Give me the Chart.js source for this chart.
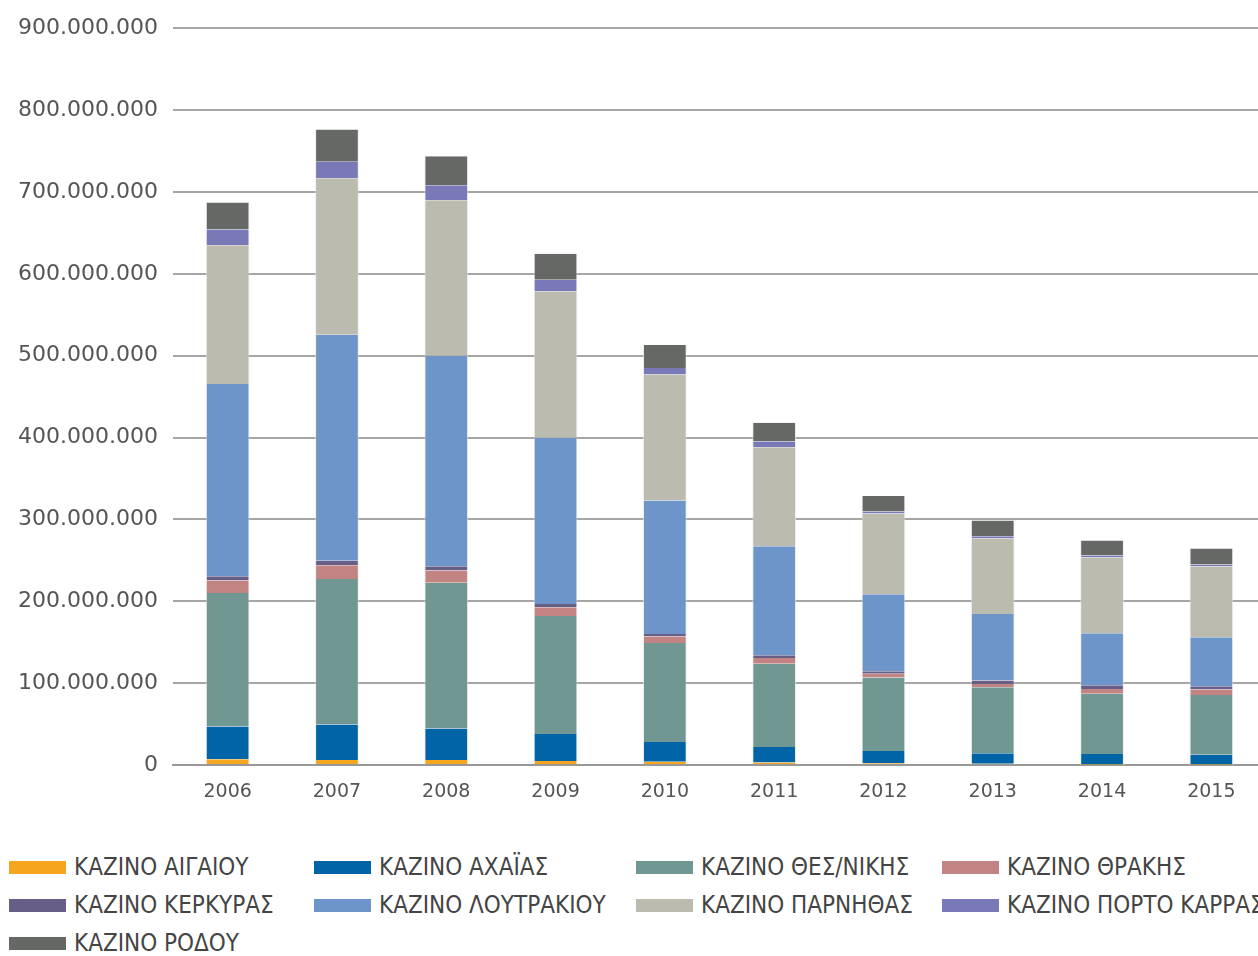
<html>
<head>
    <title>Καζίνο</title>
    <style>
        html, body { overflow: hidden; }
        body { margin: 0; background: #fff; font-family: "DejaVu Sans", sans-serif; }
        #wrap { position: relative; width: 1266px; height: 810px; }
        #leyenda { display: grid; grid-template-columns: 305px 322px 306px auto; row-gap: 12px; padding-left: 9px; margin-top: 44px; width: 1249px; }
        .item { display: flex; align-items: center; height: 26px; white-space: nowrap; }
        .sw { width: 57px; height: 13px; margin-right: 8px; flex: none; }
        .txt { font-family: "Liberation Sans Narrow", "DejaVu Sans Condensed", sans-serif; font-size: 24px; color: #444; }
    </style>
</head>
<body>
    <div id="wrap"><canvas id="grafico"></canvas></div>
    <div id="leyenda"></div>

    <script src="https://cdn.jsdelivr.net/npm/chart.js"></script>
    <script>
        const anios = ['2006', '2007', '2008', '2009', '2010', '2011', '2012', '2013', '2014', '2015'];

        // valores en millones de euros
        const aigaiou   = [7, 6, 6, 5, 4, 3, 2, 1.5, 0.4, 0.3];
        const achaias   = [40, 43.6, 38.7, 33, 24, 19, 15, 13, 13, 12.3];
        const thesniki  = [163, 177.6, 178, 144, 121, 101.6, 90, 80.5, 73.5, 73];
        const thrakis   = [15.5, 16.7, 15, 10.7, 8, 7, 4.4, 4, 6, 6.6];
        const kerkyras  = [5, 5.7, 5.2, 4, 3, 3.5, 3.2, 4.3, 4.5, 4];
        const loutrakiou = [235, 276, 257, 203, 163, 133, 94, 81, 63.4, 59.8];
        const parnithas = [169.5, 191, 190, 179, 154, 121, 98.5, 92.5, 92.7, 86.6];
        const portokarras = [19, 20.3, 18.3, 14, 8, 7, 2.5, 2.5, 2.4, 2.4];
        const rodou     = [33, 39.4, 35.4, 31.7, 28, 23, 19, 19.5, 18.4, 19.6];

        const ticksY = [0, 100, 200, 300, 400, 500, 600, 700, 800, 900];

        const series = [
            { label: 'ΚΑΖΙΝΟ ΑΙΓΑΙΟΥ', data: aigaiou, color: '#F6A61E' },
            { label: 'ΚΑΖΙΝΟ ΑΧΑΪΑΣ', data: achaias, color: '#0064A7' },
            { label: 'ΚΑΖΙΝΟ ΘΕΣ/ΝΙΚΗΣ', data: thesniki, color: '#719793' },
            { label: 'ΚΑΖΙΝΟ ΘΡΑΚΗΣ', data: thrakis, color: '#C18482' },
            { label: 'ΚΑΖΙΝΟ ΚΕΡΚΥΡΑΣ', data: kerkyras, color: '#665E87' },
            { label: 'ΚΑΖΙΝΟ ΛΟΥΤΡΑΚΙΟΥ', data: loutrakiou, color: '#6D95C9' },
            { label: 'ΚΑΖΙΝΟ ΠΑΡΝΗΘΑΣ', data: parnithas, color: '#BBBBAF' },
            { label: 'ΚΑΖΙΝΟ ΠΟΡΤΟ ΚΑΡΡΑΣ', data: portokarras, color: '#7A79B8' },
            { label: 'ΚΑΖΙΝΟ ΡΟΔΟΥ', data: rodou, color: '#666866' }
        ];

        function formato(v) {
            return String(Math.round(v * 1000000)).replace(/\B(?=(\d{3})+(?!\d))/g, '.');
        }

        const ctx = document.getElementById('grafico').getContext('2d');
        const grafico = new Chart(ctx, {
            type: 'bar',
            data: {
                labels: anios,
                datasets: series.map(s => ({
                    label: s.label,
                    data: s.data.map(v => v),
                    backgroundColor: s.color,
                    borderColor: 'rgba(230,230,230,0.7)',
                    borderWidth: { left: 1, right: 1, top: 0, bottom: 0 },
                    barPercentage: 0.4,
                    categoryPercentage: 1
                }))
            },
            options: {
                responsive: true,
                maintainAspectRatio: false,
                animation: false,
                layout: { padding: { top: 27, right: 0, left: 0, bottom: 0 } },
                plugins: { legend: { display: false }, tooltip: { enabled: false } },
                scales: {
                    x: {
                        stacked: true,
                        grid: { display: false, drawTicks: false },
                        border: { color: '#999', width: 2 },
                        ticks: { color: '#555', font: { family: 'DejaVu Sans', size: 19 }, padding: 16 },
                        afterFit: s => { s.height = 45; }
                    },
                    y: {
                        stacked: true,
                        min: 0,
                        max: 900,
                        afterBuildTicks: s => { s.ticks = ticksY.map(v => ({ value: v })); },
                        grid: { color: '#A6A6A6', lineWidth: 2, drawTicks: false },
                        border: { display: false },
                        ticks: {
                            color: '#555',
                            font: { family: 'DejaVu Sans', size: 22 },
                            padding: 15,
                            callback: v => formato(v)
                        },
                        afterFit: s => { s.width = 173; }
                    }
                }
            }
        });

        // leyenda en cuatro columnas
        const leyenda = document.getElementById('leyenda');
        series.forEach(s => {
            const it = document.createElement('div');
            it.className = 'item';
            it.innerHTML = '<span class="sw" style="background:' + s.color + '"></span><span class="txt">' + s.label + '</span>';
            leyenda.appendChild(it);
        });
    </script>
</body>
</html>
